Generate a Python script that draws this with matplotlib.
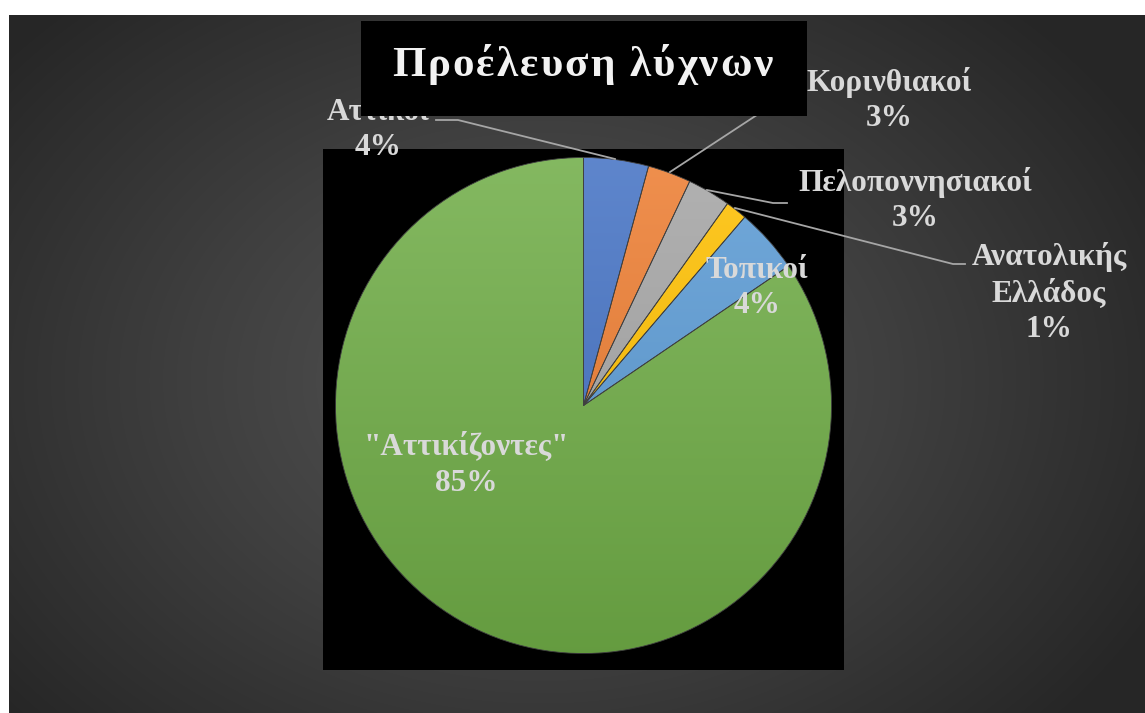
import numpy as np
import matplotlib.pyplot as plt
from matplotlib.colors import LinearSegmentedColormap, to_rgb
from matplotlib.patches import Rectangle

# data
labels = ['Αττικοί', 'Κορινθιακοί', 'Πελοποννησιακοί', 'Ανατολικής\nΕλλάδος', 'Τοπικοί', '"Αττικίζοντες"']
counts = [6, 4, 4, 2, 6, 120]
colors = ['#4472C4', '#ED7D31', '#A5A5A5', '#FFC000', '#5B9BD5', '#70AD47']
title = 'Προέλευση λύχνων'

# layout in image pixels (y down)
W, H = 1145, 713
label_pos = [(378, 130), (889, 100), (915, 200), (1049, 293), (757, 288), (466, 465)]
leaders = [
    [(615, 159), (458, 120), (436, 120)],
    [(670, 172), (795, 90)],
    [(707, 190), (773, 203), (787, 203)],
    [(735, 208), (953, 264), (965, 264)],
    None,
    None,
]
cx, cy, R = 583.5, 405.5, 248

fig = plt.figure(figsize=(W / 100, H / 100), dpi=100)
fig.patch.set_facecolor('white')

# background: radial gradient
bg = fig.add_axes([0, 0, 1, 1])
bg.axis('off')
yy, xx = np.mgrid[15:H, 9:W]
d = np.sqrt(((xx - 540) / 700.0) ** 2 + ((yy - 380) / 520.0) ** 2)
d = np.clip(d, 0, 1)
bg_cmap = LinearSegmentedColormap.from_list('bg', ['#555555', '#3f3f3f', '#262626'])
bg.imshow(d, cmap=bg_cmap, extent=[9, W, H, 15], aspect='auto', vmin=0, vmax=1)
bg.set_xlim(0, W)
bg.set_ylim(H, 0)
bg.add_patch(Rectangle((323, 149), 521, 521, facecolor='black', edgecolor='none'))

# pie
ax = fig.add_axes([323 / W, (H - 670) / H, 521 / W, 521 / H])
wedges, _ = ax.pie(counts, colors=colors, startangle=90, counterclock=False,
                   center=(cx, H - cy), radius=R,
                   wedgeprops=dict(linewidth=0.6, edgecolor='#404040'))
grad = np.linspace(0, 1, 256).reshape(-1, 1)
for w, c in zip(wedges, colors):
    rgb = np.array(to_rgb(c))
    top = rgb + (1 - rgb) * 0.14
    bot = rgb * 0.9
    cm = LinearSegmentedColormap.from_list('g', [top, bot])
    im = ax.imshow(grad, cmap=cm, extent=[cx - R, cx + R, H - cy - R, H - cy + R],
                   origin='upper', aspect='auto', zorder=1)
    im.set_clip_path(w)
    w.set_facecolor('none')
    w.set_zorder(2)
ax.set_xlim(323, 844)
ax.set_ylim(H - 670, H - 149)
ax.axis('off')

# overlay: leaders, labels, title
ov = fig.add_axes([0, 0, 1, 1])
ov.set_xlim(0, W)
ov.set_ylim(H, 0)
ov.axis('off')
ov.patch.set_alpha(0)

total = sum(counts)
font = ['Liberation Serif', 'DejaVu Serif']
for lab, v, (x, y), ld in zip(labels, counts, label_pos, leaders):
    if ld is not None:
        xs, ys = zip(*ld)
        ov.plot(xs, ys, color='#a6a6a6', lw=1.3, zorder=2)
    pct = round(v / total * 100)
    ov.text(x, y, f'{lab}\n{pct}%', ha='center', va='center', fontsize=22.5,
            fontweight='bold', family=font, color='#d9d9d9',
            linespacing=1.3, zorder=3)

ov.add_patch(Rectangle((361, 21), 446, 95, facecolor='black', edgecolor='none', zorder=5))

# title with letter spacing
renderer = fig.canvas.get_renderer()
tsize = 31
em = tsize * 100 / 72
widths = []
for ch in title:
    if ch == ' ':
        widths.append(0.25 * em)
        continue
    t = ov.text(0, 0, ch, fontsize=tsize, fontweight='bold', family=font)
    widths.append(t.get_window_extent(renderer).width)
    t.remove()
x0, x1 = 392, 773
extra = (x1 - x0 - sum(widths)) / (len(title) - 1)
x = x0
for ch, wd in zip(title, widths):
    if ch != ' ':
        ov.text(x, 76, ch, fontsize=tsize, fontweight='bold', family=font,
                color='#f2f2f2', ha='left', va='baseline', zorder=6)
    x += wd + extra

fig.savefig('out.png', dpi=100)
